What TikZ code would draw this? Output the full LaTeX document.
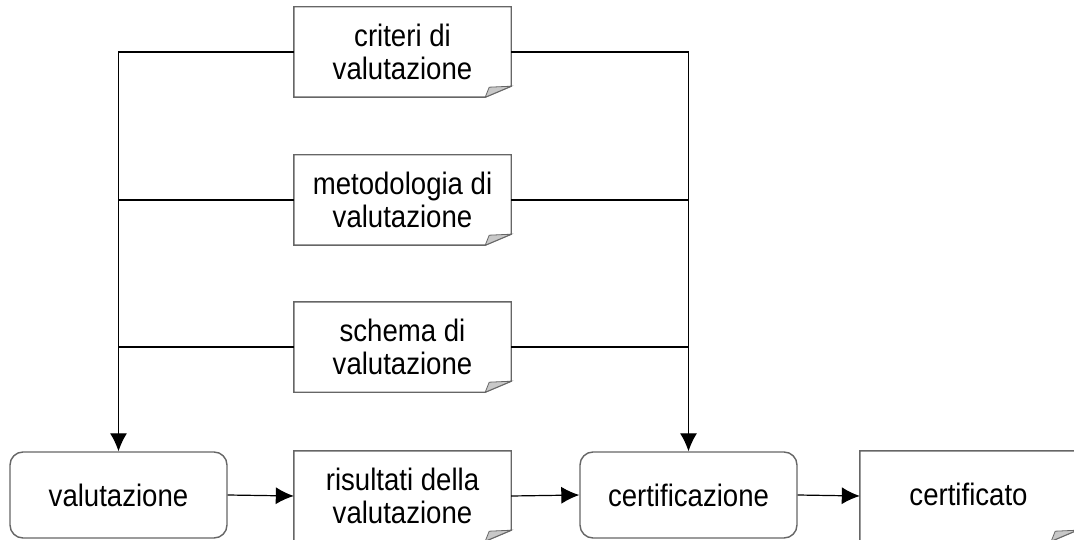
\documentclass[tikz,border=0pt]{standalone}
\usepackage{fontspec}
\newfontfamily\lblfont[FakeStretch=0.89]{Liberation Sans}
\usetikzlibrary{arrows.meta}
\pgfdeclarelayer{background}
\pgfsetlayers{background,main}
\definecolor{boxgray}{HTML}{666666}
\definecolor{foldgray}{HTML}{C8C8C8}
\tikzset{
  lbl/.style={font=\lblfont\fontsize{31}{33}\selectfont, align=center, text=black},
  docbox/.style={lbl, minimum width=217pt, minimum height=90pt, inner sep=0pt},
  procbox/.style={lbl, draw=boxgray, line width=1.4pt, rounded corners=13pt,
    fill=white, minimum width=217pt, minimum height=86pt, inner sep=0pt},
  docline/.style={draw=boxgray, line width=1.4pt, fill=white},
  foldstyle/.style={draw=boxgray, line width=0.8pt, fill=foldgray},
  conn/.style={draw=black, line width=1.2pt},
  arr/.style={conn, -{Latex[length=18pt,width=17pt]}},
}
\begin{document}
\begin{tikzpicture}[x=1pt,y=1pt]
  \useasboundingbox (0,0) rectangle (1074,-540);

  % document-shaped nodes (outline drawn on the background layer)
  \node[docbox] (crit)   at (402.5,-52)  {criteri di\\valutazione};
  \node[docbox] (metod)  at (402.5,-200) {metodologia di\\valutazione};
  \node[docbox] (schema) at (402.5,-347) {schema di\\valutazione};
  \node[docbox] (risult) at (402.5,-496) {risultati della\\valutazione};
  \node[docbox] (certo) at (968.5,-496) {\raisebox{4pt}{certificato}};

  % process nodes
  \node[procbox] (valut)  at (118.5,-495) {valutazione};
  \node[procbox] (certif) at (688.5,-495) {certificazione};

  % outlines with folded corner for the documents
  \begin{pgfonlayer}{background}
  \foreach \n in {crit,metod,schema,risult,certo} {
    \path[docline] (\n.north west) -- (\n.north east)
      -- ([yshift=11pt]\n.south east) -- ([xshift=-26pt]\n.south east)
      -- (\n.south west) -- cycle;
    \path[foldstyle] ([xshift=-26pt]\n.south east)
      -- ([xshift=-22pt,yshift=10pt]\n.south east)
      -- ([yshift=11pt]\n.south east) -- cycle;
  }
  \end{pgfonlayer}

  % inputs to valutazione
  \draw[arr] (crit.west) -| (valut.north);
  \draw[conn] (metod.west) -- (metod.west -| valut.north);
  \draw[conn] (schema.west) -- (schema.west -| valut.north);

  % inputs to certificazione
  \draw[arr] (crit.east) -| (certif.north);
  \draw[conn] (metod.east) -- (metod.east -| certif.north);
  \draw[conn] (schema.east) -- (schema.east -| certif.north);

  % main flow
  \draw[arr] (valut.east) -- (risult.west);
  \draw[arr] (risult.east) -- (certif.west);
  \draw[arr] (certif.east) -- (certo.west);
\end{tikzpicture}
\end{document}
